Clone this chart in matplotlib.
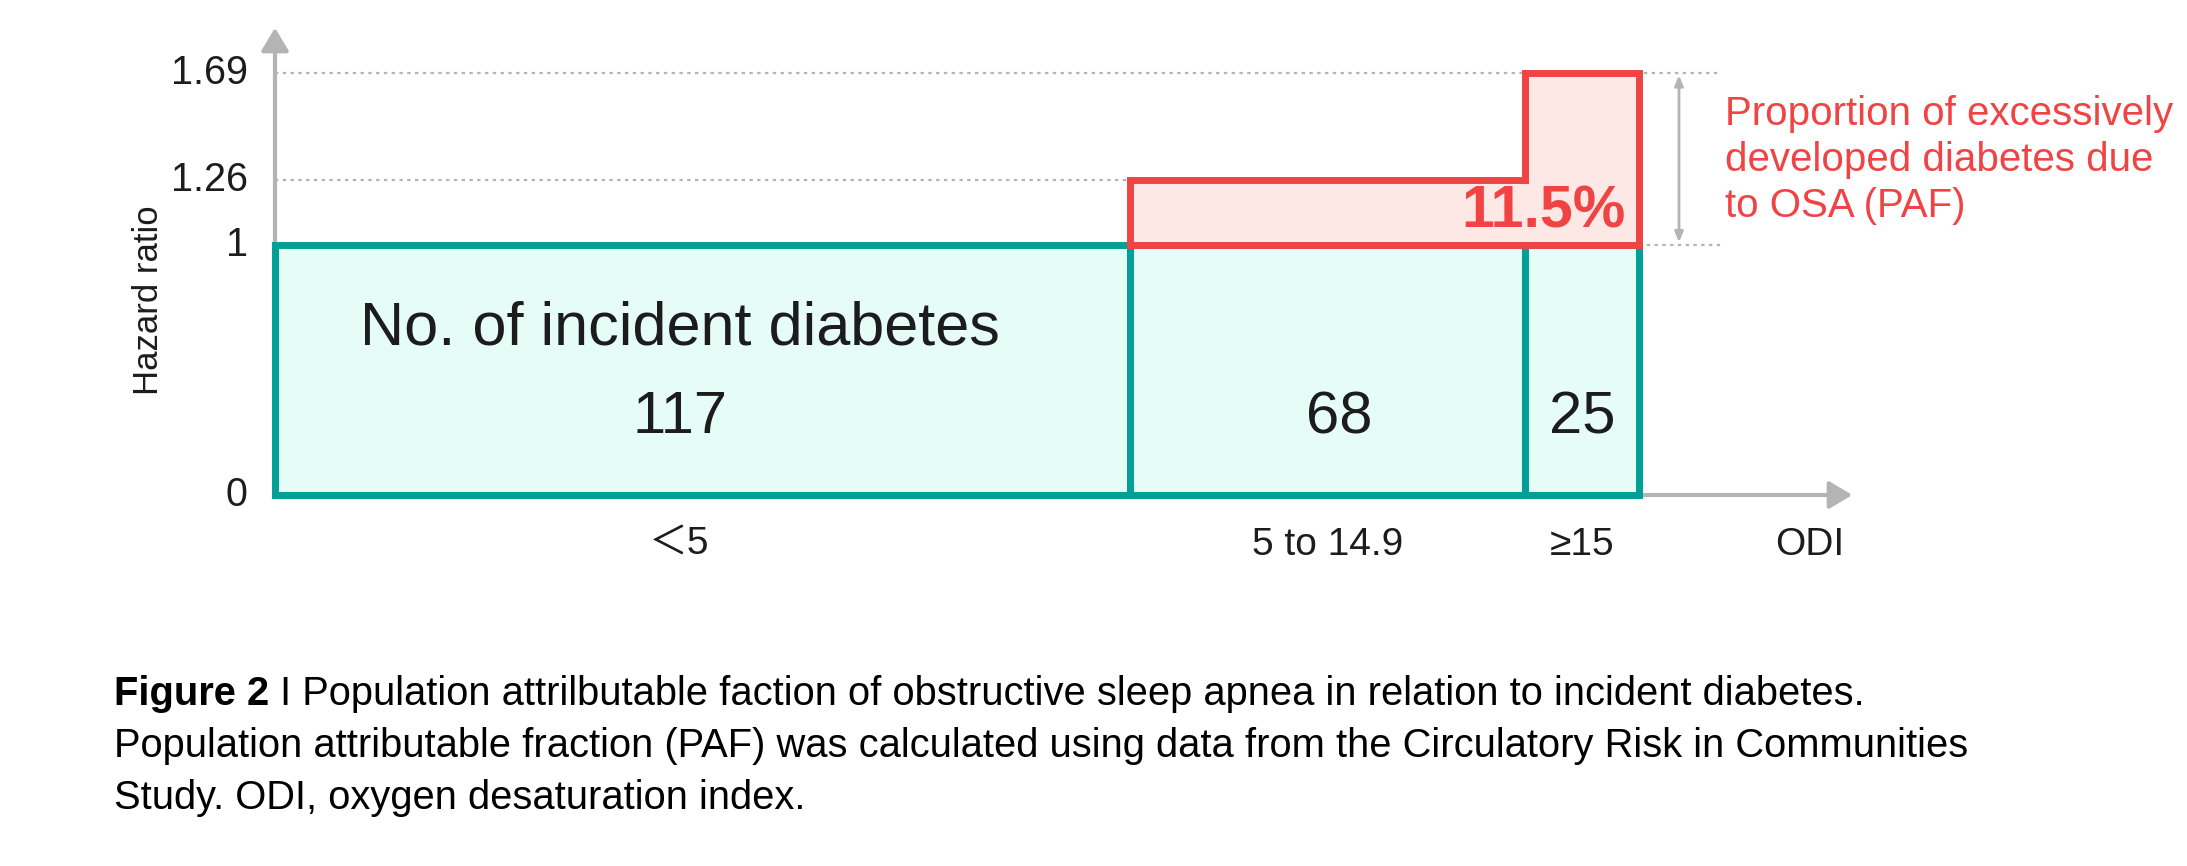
import matplotlib
matplotlib.use("Agg")
import matplotlib.pyplot as plt

plt.rcParams['font.family'] = ['Liberation Sans', 'Noto Sans CJK JP', 'DejaVu Sans']

# ODI categories (bar width = share of participants, %), incident cases, hazard ratios
categories = ['\uff1c5', '5 to 14.9', '\u226515']
widths = [62.7, 28.9, 8.4]
cases = [117, 68, 25]
hazard = [1.0, 1.26, 1.69]
yticks = [0, 1, 1.26, 1.69]
ytick_labels = ['0', '1', '1.26', '1.69']
paf = '11.5%'

teal = '#00a096'
mint = '#e6fcf7'
red = '#f04444'
pink = '#fde8e6'
grey = '#b4b4b4'
ink = '#1c1c1c'

lefts = [sum(widths[:i]) for i in range(len(widths))]
total = sum(widths)
xmax = 115.8
ymax = 1.88
# where labels sit inside each column (fraction of the column width)
num_pos = [0.473, 0.53, 0.5]
cat_pos = [0.473, 0.5, 0.5]

fig = plt.figure(figsize=(21.87, 8.66), dpi=100)
ax = fig.add_axes([275 / 2187, (866 - 495) / 866, (1855 - 275) / 2187, 470 / 866])
ax.set_xlim(0, xmax)
ax.set_ylim(0, ymax)
ax.axis('off')

# dotted guide lines
dots = dict(ls=(0, (1.5, 2)), color=grey, lw=1.6, zorder=1, clip_on=False)
ax.plot([0, 106], [hazard[2]] * 2, **dots)
ax.plot([0, lefts[1]], [hazard[1]] * 2, **dots)
ax.plot([total, 106], [hazard[0]] * 2, **dots)

# axes arrows
arr = dict(arrowstyle='-|>,head_width=0.42,head_length=0.7', color=grey, lw=3, mutation_scale=20)
ax.annotate('', xy=(0, ymax), xytext=(0, 0), arrowprops=arr, zorder=2, annotation_clip=False)
ax.annotate('', xy=(xmax, 0), xytext=(0, 0), arrowprops=arr, zorder=2, annotation_clip=False)

# baseline cases (HR = 1)
ax.bar(lefts, [hazard[0]] * 3, width=widths, align='edge', facecolor=mint,
       edgecolor=teal, linewidth=5, zorder=3, clip_on=False)

# excess risk region (HR above 1 in exposed groups)
px = [lefts[1], lefts[1], lefts[2], lefts[2], total, total]
py = [hazard[0], hazard[1], hazard[1], hazard[2], hazard[2], hazard[0]]
ax.fill(px, py, facecolor=pink, edgecolor=red, linewidth=5, joinstyle='miter',
        zorder=4, clip_on=False)

# double arrow showing excess
ax.annotate('', xy=(102.9, hazard[2]), xytext=(102.9, hazard[0]),
            arrowprops=dict(arrowstyle='<|-|>,head_width=0.25,head_length=0.6', color=grey, lw=2),
            zorder=2, annotation_clip=False)

ax.text(total - 1.0, 1.133, paf, color=red, fontsize=42.5, fontweight='bold',
        ha='right', va='center', zorder=5)
ax.text(106.3, 1.34, 'Proportion of excessively\ndeveloped diabetes due\nto OSA (PAF)',
        color=red, fontsize=29, ha='left', va='center', linespacing=1.27)

# counts
ax.text(lefts[0] + widths[0] * num_pos[0], 0.665, 'No. of incident diabetes',
        fontsize=44, color=ink, ha='center', va='center', zorder=5)
for l, w, f, n in zip(lefts, widths, num_pos, cases):
    ax.text(l + w * f, 0.31, str(n), fontsize=43, color=ink, ha='center', va='center', zorder=5)

# category labels
for l, w, f, c in zip(lefts, widths, cat_pos, categories):
    ax.text(l + w * f, -0.2, c, fontsize=28, color=ink, ha='center', va='center')
ax.text(112.5, -0.2, 'ODI', fontsize=28, color=ink, ha='center', va='center')

# y tick labels
for v, s in zip(yticks, ytick_labels):
    ax.text(-2.0, v, s, fontsize=28.5, color=ink, ha='right', va='center')
ax.text(-9.3, 0.78, 'Hazard ratio', fontsize=25, color=ink, rotation=90, ha='center', va='center')

# caption
cap_fs = 28.7
x0 = 114 / 2187
t1 = fig.text(x0, 1 - 705 / 866, 'Figure 2', fontsize=cap_fs, fontweight='bold',
              color='black', ha='left', va='baseline')
ax.annotate(' I Population attrilbutable faction of obstructive sleep apnea in relation to incident diabetes.',
            xy=(1, 0), xycoords=t1, fontsize=cap_fs, color='black', ha='left', va='bottom')
fig.text(x0, 1 - 757 / 866,
         'Population attributable fraction (PAF) was calculated using data from the Circulatory Risk in Communities',
         fontsize=cap_fs, color='black', ha='left', va='baseline')
fig.text(x0, 1 - 809 / 866, 'Study. ODI, oxygen desaturation index.',
         fontsize=cap_fs, color='black', ha='left', va='baseline')

fig.savefig('out.png', dpi=100, facecolor='white')
